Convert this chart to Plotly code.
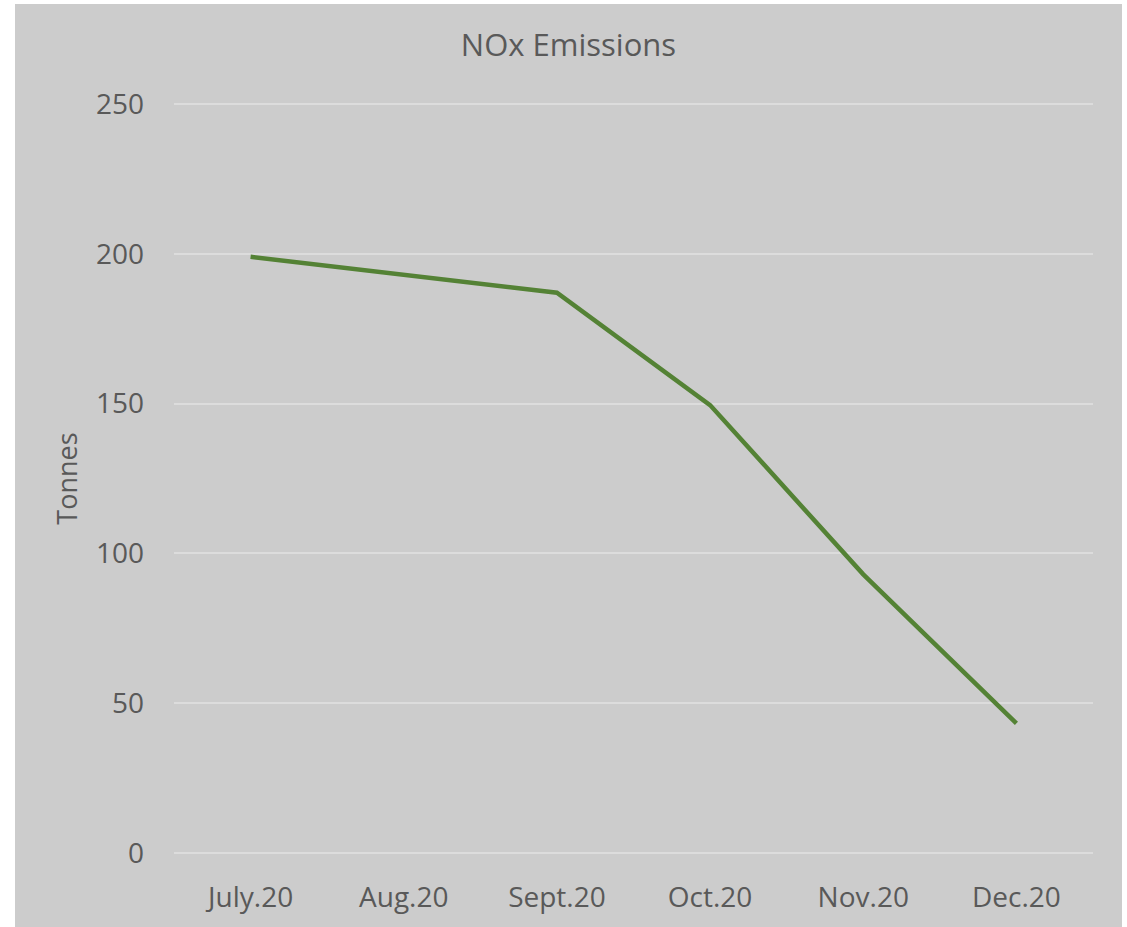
import plotly.graph_objects as go

months = ["July.20", "Aug.20", "Sept.20", "Oct.20", "Nov.20", "Dec.20"]
nox_tonnes = [199, 193, 187, 149.5, 93, 43.3]
y_ticks = [0, 50, 100, 150, 200, 250]

W, H = 1127, 927
L, T = 174, 98
PW, PH = 919, 761
R, B = W - L - PW, H - T - PH

def fx(px):
    return (px - L) / PW

def fy(py):
    return (H - B - py) / PH

text_col = "#595959"
bg = "#CCCCCC"
font_family = "Open Sans, Liberation Sans, sans-serif"

fig = go.Figure()
fig.add_trace(go.Scatter(
    x=months, y=nox_tonnes, mode="lines",
    line=dict(color="#548235", width=4.5),
    hoverinfo="x+y",
))

fig.add_shape(type="rect", xref="paper", yref="paper",
              x0=fx(15), x1=fx(1122), y0=fy(H + 5), y1=fy(4),
              fillcolor=bg, line=dict(width=0), layer="below")

fig.update_layout(
    width=W, height=H,
    margin=dict(l=L, r=R, t=T, b=B),
    paper_bgcolor="white",
    plot_bgcolor="rgba(0,0,0,0)",
    showlegend=False,
    title=dict(text="NOx Emissions", xref="container", yref="container",
               x=568.5 / W, xanchor="center",
               y=1 - 45 / H, yanchor="middle",
               font=dict(family=font_family, size=31, color=text_col)),
    font=dict(family=font_family, color=text_col, size=28),
)
fig.update_xaxes(
    type="category", range=[-0.5, 5.5], showgrid=False, zeroline=False,
    showline=False, ticks="", ticklabelstandoff=19,
    tickfont=dict(size=28, color=text_col),
)
fig.update_yaxes(
    range=[-2, 252], tickvals=y_ticks, showgrid=True, gridcolor="#DCDCDC",
    gridwidth=1.5, zeroline=False, showline=False, ticks="",
    ticklabelstandoff=29,
    tickfont=dict(size=28, color=text_col),
    title=dict(text="Tonnes", font=dict(size=27, color=text_col), standoff=10),
)

fig.write_html("out.html", config={"displayModeBar": False},
               post_script="document.body.style.margin='0';")
